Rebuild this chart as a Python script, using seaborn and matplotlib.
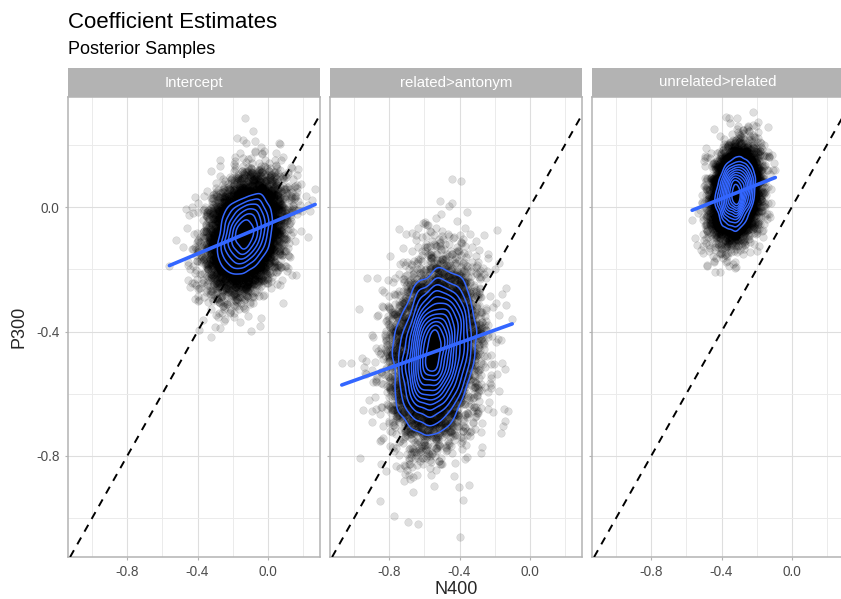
import numpy as np
import pandas as pd
import matplotlib
matplotlib.use("Agg")
import matplotlib.pyplot as plt
from matplotlib.patches import Rectangle
from matplotlib.ticker import FixedLocator
import seaborn as sns

sns.set_theme(style="white")
plt.rcParams["font.family"] = ["Liberation Sans", "DejaVu Sans"]
plt.rcParams["axes.unicode_minus"] = False

# ---- data (summary of the posterior clouds) ----
terms = ["Intercept", "related>antonym", "unrelated>related"]
n400_mean = [-0.13, -0.54, -0.32]
n400_sd = [0.097, 0.108, 0.060]
p300_mean = [-0.085, -0.465, 0.045]
p300_sd = [0.082, 0.125, 0.064]
corr = [0.28, 0.18, 0.19]
tail_df = [40, 24, 40]          # heavier tails in the related>antonym cloud
n_samples = 8000
# individual extreme samples visible in the picture
extreme_term = ["Intercept", "Intercept", "related>antonym", "related>antonym",
                "related>antonym", "related>antonym", "related>antonym",
                "unrelated>related", "unrelated>related"]
extreme_n400 = [-0.13, -0.56, -0.40, -1.07, -0.10, -0.44, -0.51, -0.31, -0.48]
extreme_p300 = [0.286, -0.19, -1.06, -0.50, -0.36, 0.09, 0.02, 0.286, -0.19]
x_ticks = [-0.8, -0.4, 0.0]
y_ticks = [-0.8, -0.4, 0.0]
x_minor = [-1.0, -0.6, -0.2, 0.2]
y_minor = [-1.0, -0.6, -0.2, 0.2]


# deterministic equidistributed (quadratic Weyl) bivariate-t draws, no RNG
def weyl_draws(n, k, nu):
    i = np.arange(1, n + 1, dtype=np.float64)
    a1, a2 = np.sqrt(2.0) + 0.1 * k, np.sqrt(3.0) + 0.07 * k
    b1, b2 = np.sqrt(5.0), np.sqrt(7.0)
    u1 = np.mod(i * i * a1 + i * b1, 1.0)
    u2 = np.mod(i * i * a2 + i * b2, 1.0)
    u1 = np.clip(u1, 6.0 / n, 1.0)
    r = np.sqrt(nu * (u1 ** (-2.0 / nu) - 1.0))
    return r * np.cos(2 * np.pi * u2), r * np.sin(2 * np.pi * u2)


frames = []
for k, t in enumerate(terms):
    z1, z2 = weyl_draws(n_samples, k, tail_df[k])
    x = n400_mean[k] + n400_sd[k] * z1
    y = p300_mean[k] + p300_sd[k] * (corr[k] * z1 + np.sqrt(1 - corr[k] ** 2) * z2)
    frames.append(pd.DataFrame({"term": t, "N400": x, "P300": y}))
frames.append(pd.DataFrame({"term": extreme_term, "N400": extreme_n400, "P300": extreme_p300}))
df = pd.concat(frames, ignore_index=True)

levels = {
    "Intercept": list(np.linspace(0.30, 0.87, 6)),
    "related>antonym": list(np.linspace(0.13, 0.91, 12)),
    "unrelated>related": list(np.linspace(0.20, 0.91, 10)),
}

W, H = 841, 599
fig = plt.figure(figsize=(W / 100, H / 100), dpi=100)
blue = "#3366FF"
xlim = (-1.137, 0.297)
ylim = (-1.125, 0.354)

for k, t in enumerate(terms):
    left = (68 + k * 262) / W
    ax = fig.add_axes([left, (H - 557) / H, 252 / W, 460 / H])
    sub = df[df["term"] == t]
    ax.set_xlim(*xlim)
    ax.set_ylim(*ylim)
    ax.xaxis.set_major_locator(FixedLocator(x_ticks))
    ax.yaxis.set_major_locator(FixedLocator(y_ticks))
    ax.xaxis.set_minor_locator(FixedLocator(x_minor))
    ax.yaxis.set_minor_locator(FixedLocator(y_minor))
    ax.grid(True, which="major", color="#DEDEDE", lw=0.8)
    ax.grid(True, which="minor", color="#EBEBEB", lw=0.7)
    ax.set_axisbelow(True)

    sns.scatterplot(data=sub, x="N400", y="P300", ax=ax, color="black",
                    alpha=0.13, s=30, edgecolor="black", linewidth=0.35, zorder=2)
    ax.axline((0, 0), slope=1, color="black", lw=1.4, ls=(0, (4, 3.5)), zorder=3)
    sns.kdeplot(data=sub, x="N400", y="P300", ax=ax, levels=levels[t],
                color=blue, linewidths=1.1, zorder=4)
    sns.regplot(data=sub, x="N400", y="P300", ax=ax, scatter=False, ci=None,
                truncate=True, line_kws=dict(color=blue, lw=2.6, zorder=5))

    ax.set_xlim(*xlim)
    ax.set_ylim(*ylim)
    ax.set_xlabel("")
    ax.set_ylabel("")
    ax.set_xticklabels([f"{v:.1f}" for v in x_ticks])
    if k == 0:
        ax.set_yticklabels([f"{v:.1f}" for v in y_ticks])
    else:
        ax.set_yticklabels([])
    ax.tick_params(which="major", length=2.5, width=0.8, color="#B3B3B3",
                   labelcolor="#4D4D4D", labelsize=9.8, pad=3.5,
                   bottom=True, left=True)
    ax.tick_params(which="minor", length=0)
    for sp in ax.spines.values():
        sp.set_color("#B3B3B3")
        sp.set_linewidth(1.1)

    sh = 29 / 460
    ax.add_patch(Rectangle((0, 1), 1, sh, transform=ax.transAxes,
                           facecolor="#B3B3B3", edgecolor="none", clip_on=False))
    ax.text(0.5, 1 + sh / 2, t, transform=ax.transAxes, ha="center", va="center",
            color="white", fontsize=10.8)

fig.text(68 / W, 1 - 28.5 / H, "Coefficient Estimates", fontsize=16,
         ha="left", va="baseline", color="black")
fig.text(68 / W, 1 - 54 / H, "Posterior Samples", fontsize=13,
         ha="left", va="baseline", color="black")
fig.text(456 / W, 1 - 589 / H, "N400", fontsize=13, ha="center", va="center")
fig.text(19 / W, 1 - 327 / H, "P300", fontsize=13, ha="center", va="center",
         rotation=90)

fig.savefig("out.png", dpi=100, facecolor="white")
